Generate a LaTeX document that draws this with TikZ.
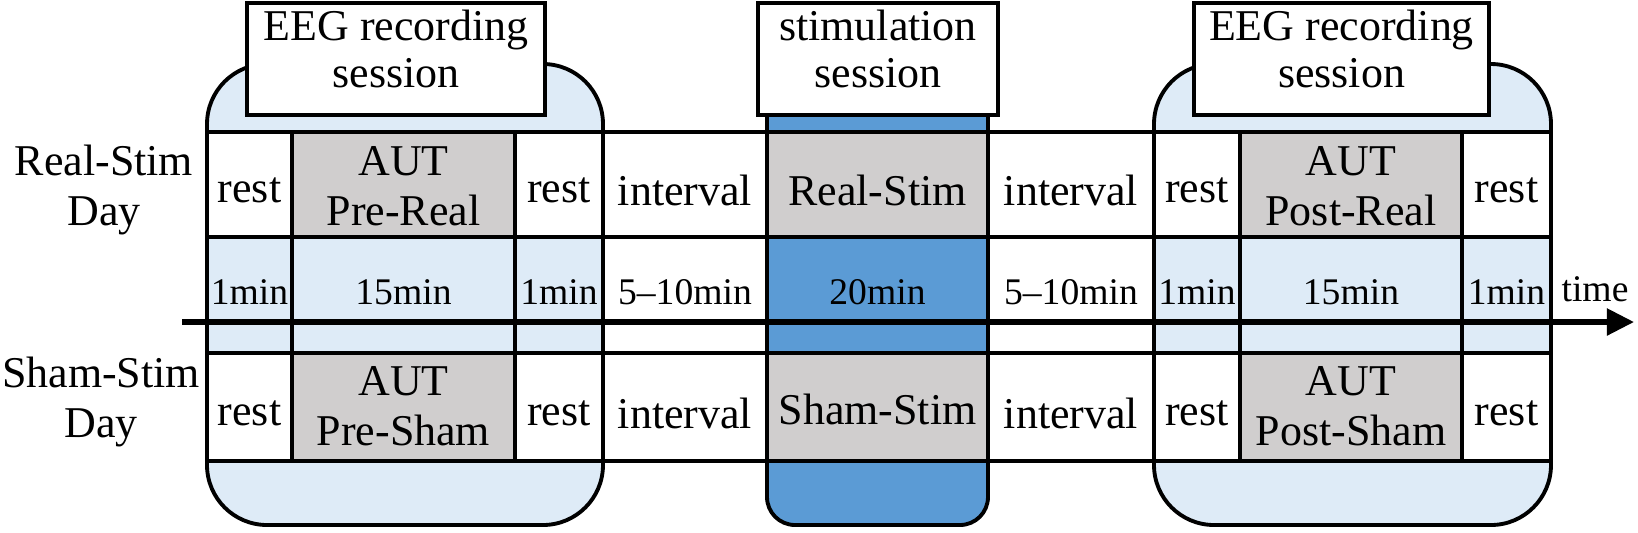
\documentclass[tikz,border=0pt]{standalone}
\usepackage{fontspec}
\setmainfont{Liberation Serif}
\usetikzlibrary{arrows.meta,positioning}
\definecolor{sessblue}{RGB}{222,235,247}
\definecolor{stimblue}{RGB}{91,155,213}
\definecolor{autgray}{RGB}{208,206,206}
\tikzset{
  cell/.style={align=center,inner sep=0pt,font=\fontsize{12.5}{14.3}\selectfont},
  durcell/.style={align=center,inner sep=0pt,font=\fontsize{10.7}{12}\selectfont},
  headbox/.style={draw,fill=white,inner sep=0pt,minimum height=1.12cm},
  headtext/.style={align=center,inner sep=0pt,font=\fontsize{12.5}{13.4}\selectfont},
  grid/.style={line width=1.1pt}
}

\begin{document}
\begin{tikzpicture}[x=0.01cm,y=-0.01cm,line width=1.1pt]
\useasboundingbox (0,0) rectangle (1638,532);

\draw[fill=sessblue,rounded corners=0.6cm] (207,64) rectangle (603,525);
\draw[fill=sessblue,rounded corners=0.6cm] (1154,64) rectangle (1551,525);
\draw[fill=stimblue,rounded corners=0.28cm] (767,60) rectangle (988,525);

\fill[white] (207,132) rectangle (1551,237);
\fill[white] (207,353) rectangle (1551,461);
\fill[white] (603,237) rectangle (767,353);
\fill[white] (988,237) rectangle (1154,353);
\foreach \xa/\xb in {292/515,767/988,1240/1462} {
\fill[autgray] (\xa,132) rectangle (\xb,237);
\fill[autgray] (\xa,353) rectangle (\xb,461);
}

\foreach \y in {132,237,353,461}
\draw[grid] (207,\y) -- (1551,\y);
\foreach \x in {207,292,515,603,767,988,1154,1240,1462,1551}
\draw[grid] (\x,132) -- (\x,461);

\coordinate (t0) at (182,322);
\coordinate (t1) at (1634,322);
\draw[line width=1.5pt,-{Triangle[length=0.27cm,width=0.26cm]}] (t0) -- (t1);
\node[durcell] (timelbl) at (1595,289) {time};

\node[headbox,minimum width=2.97cm] (eeg1) at (396,59) {};
\node[headbox,minimum width=2.40cm] (stim) at (878,59) {};
\node[headbox,minimum width=2.95cm] (eeg2) at (1341.5,59) {};
\node[headtext] (eeg1txt) at ([yshift=0.1cm]eeg1.center) {EEG recording\\session};
\node[headtext] (stimtxt) at ([yshift=0.1cm]stim.center) {stimulation\\session};
\node[headtext] (eeg2txt) at ([yshift=0.1cm]eeg2.center) {EEG recording\\session};

\node[cell] (realday) at (104,190) {Real-Stim\\Day};
\node[cell] (shamday) at (101,402) {Sham-Stim\\Day};

\foreach \cx/\cy/\txt [count=\i] in {249.5/190/rest,403.5/186/{AUT\\Pre-Real},559/190/rest,685/190/interval,877.5/190/Real-Stim,1071/190/interval,1197/190/rest,1351/186/{AUT\\Post-Real},1506.5/190/rest}
\node[cell] (real\i) at (\cx,\cy) {\txt};

\foreach \cx/\txt [count=\i] in {249.5/1min,403.5/15min,559/1min,685/5--10min,877.5/20min,1071/5--10min,1197/1min,1351/15min,1506.5/1min}
\node[durcell] (dur\i) at (\cx,292) {\txt};

\foreach \cx/\cy/\txt [count=\i] in {249.5/413/rest,403.5/406/{AUT\\Pre-Sham},559/413/rest,685/413/interval,877.5/409/Sham-Stim,1071/413/interval,1197/413/rest,1351/406/{AUT\\Post-Sham},1506.5/413/rest}
\node[cell] (sham\i) at (\cx,\cy) {\txt};
\end{tikzpicture}
\end{document}
